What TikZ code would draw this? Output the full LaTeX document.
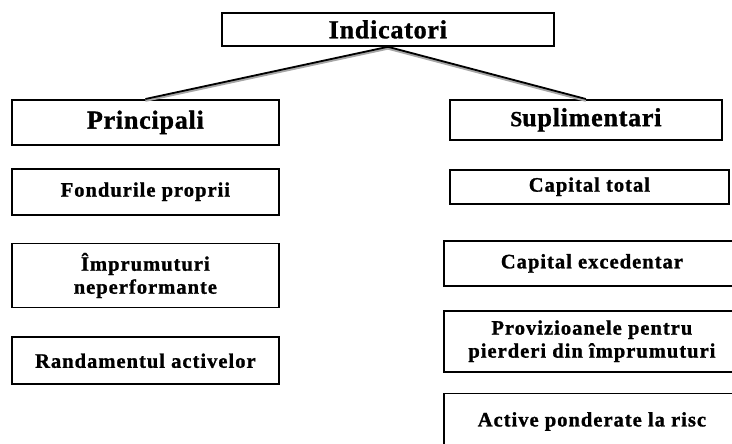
\documentclass[tikz,border=0pt]{standalone}
\usepackage{fontspec}
\setmainfont{Liberation Serif}
\newfontfamily\headfont[LetterSpace=3, BoldFeatures={FakeBold=1.2}]{Liberation Serif}
\newfontfamily\itemfont[LetterSpace=5, BoldFeatures={FakeBold=1.2}]{Liberation Serif}
\usetikzlibrary{positioning}

\begin{document}
\begin{tikzpicture}[
  x=1pt, y=-1pt,
  node distance=25pt,
  headbox/.style={draw, line width=1.8pt, inner sep=0pt, anchor=north west,
    font={\headfont\bfseries\fontsize{26}{30}\selectfont}},
  itembox/.style={draw, line width=1.8pt, inner sep=0pt, align=center,
    font={\itemfont\bfseries\fontsize{20.5}{23}\selectfont}},
  link/.style={line width=1.8pt},
  linkshade/.style={line width=2.5pt, black!35, transform canvas={yshift=-1.6pt}}
]
  \useasboundingbox (0,0) rectangle (732,444);
  \clip (0,0) rectangle (732,444);

  \node (ind) [headbox, minimum width=332pt, minimum height=33pt] at (221,12) {Indicatori};

  % left column
  \node (prin) [headbox, minimum width=267pt, minimum height=45pt] at (11,99) {Principali};
  \node (fond) [itembox, below=22pt of prin, minimum width=267pt, minimum height=46pt] {Fondurile proprii};
  \node (impr) [itembox, below=27pt of fond, minimum width=267pt, minimum height=64pt] {Împrumuturi\\neperformante};
  \node (rand) [itembox, below=28pt of impr, minimum width=267pt, minimum height=47pt] {Randamentul activelor};

  % right column
  \node (supl) [headbox, minimum width=272pt, minimum height=40pt] at (449,99) {{\fontsize{21.5}{24}\selectfont S}uplimentari};
  \node (capt) [itembox, below=28pt of supl, xshift=3.5pt, minimum width=279pt, minimum height=34pt] {Capital total};
  \node (cexc) [itembox, anchor=north west, minimum width=296pt, minimum height=45pt] at (443,240) {Capital excedentar};
  \node (prov) [itembox, below=23pt of cexc, minimum width=296pt, minimum height=61pt] {Provizioanele pentru\\pierderi din împrumuturi};
  \node (act) [itembox, below=20pt of prov, minimum width=296pt, minimum height=56pt] {Active ponderate la risc};

  \draw [linkshade] (ind.south) -- (prin.north);
  \draw [linkshade] (ind.south) -- (supl.north);
  \draw [link] (ind.south) -- (prin.north);
  \draw [link] (ind.south) -- (supl.north);

\end{tikzpicture}
\end{document}
